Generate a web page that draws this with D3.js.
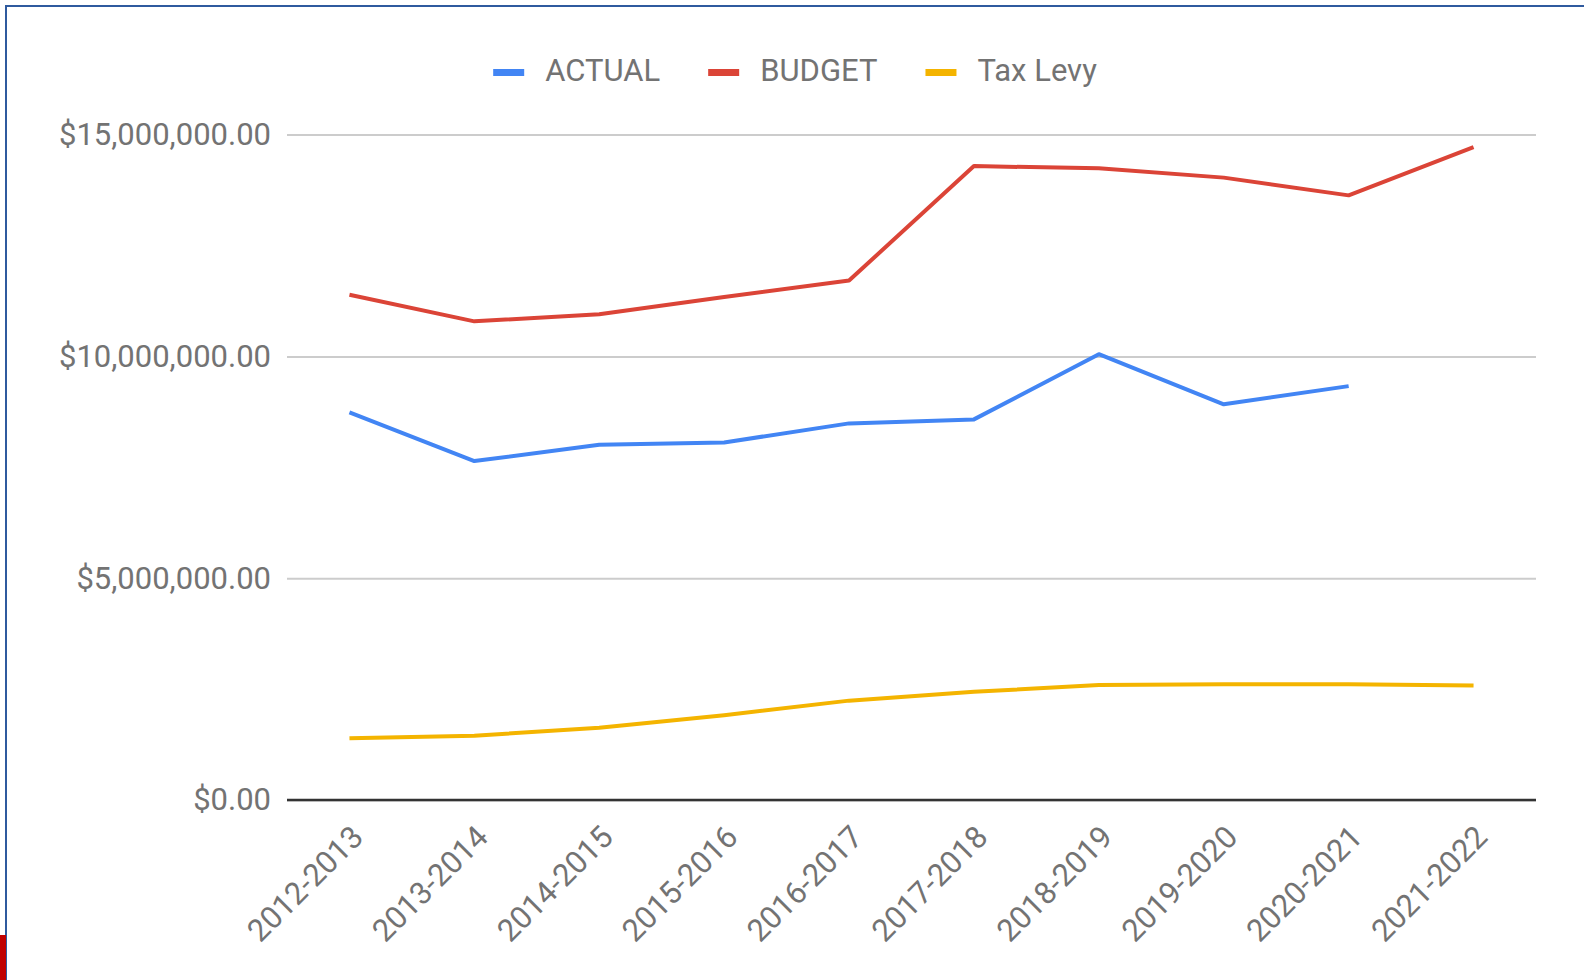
<!DOCTYPE html>
<html>
<head>
<meta charset="utf-8">
<script src="https://cdn.jsdelivr.net/npm/d3@7"></script>
<style>
  html, body { margin: 0; padding: 0; background: #fff; }
  svg { display: block; font-family: Roboto, "Noto Sans", sans-serif; }
</style>
</head>
<body>
<svg id="chart" width="1584" height="980"></svg>
<script>
const categories = ["2012-2013","2013-2014","2014-2015","2015-2016","2016-2017","2017-2018","2018-2019","2019-2020","2020-2021","2021-2022"];
const actual  = [8740000, 7640000, 8010000, 8060000, 8490000, 8580000, 10050000, 8920000, 9330000, null];
const budget  = [11390000, 10790000, 10950000, 11340000, 11710000, 14290000, 14240000, 14030000, 13630000, 14720000];
const taxLevy = [1390000, 1450000, 1630000, 1910000, 2240000, 2440000, 2590000, 2610000, 2610000, 2580000];
const yTicks = [0, 5000000, 10000000, 15000000];
const seriesNames = ["ACTUAL", "BUDGET", "Tax Levy"];
const seriesColors = ["#4285F4", "#DB4437", "#F4B400"];

const svg = d3.select("#chart");
const plotLeft = 287, plotRight = 1536, plotTop = 134.6, plotBottom = 800;

const x = d3.scalePoint().domain(categories).range([plotLeft, plotRight]).padding(0.5);
const y = d3.scaleLinear().domain([0, 15000000]).range([plotBottom, plotTop]);
const fmt = v => "$" + d3.format(",.2f")(v);

// Frame
svg.append("rect").attr("x", 6).attr("y", 6).attr("width", 1600).attr("height", 1000)
  .attr("fill", "none").attr("stroke", "#2f5a9e").attr("stroke-width", 2);
svg.append("rect").attr("x", 0).attr("y", 935).attr("width", 6).attr("height", 45).attr("fill", "#c00000");

// Grid + y labels
const yAxis = svg.append("g").attr("transform", `translate(${plotLeft},0)`)
  .call(d3.axisLeft(y).tickValues(yTicks).tickFormat(fmt).tickSize(-(plotRight - plotLeft)).tickPadding(16));
yAxis.select(".domain").remove();
yAxis.selectAll(".tick line").attr("stroke", "#cccccc").attr("stroke-width", 2);
yAxis.selectAll(".tick text").attr("fill", "#737373").attr("font-size", 31).attr("font-family", "Roboto");

// Baseline
svg.append("line").attr("x1", plotLeft).attr("x2", plotRight).attr("y1", y(0)).attr("y2", y(0))
  .attr("stroke", "#333333").attr("stroke-width", 2.5);

// X labels
const xAxis = svg.append("g").attr("transform", `translate(0,${plotBottom})`)
  .call(d3.axisBottom(x).tickSize(0).tickPadding(0));
xAxis.select(".domain").remove();
xAxis.selectAll(".tick text")
  .attr("fill", "#737373").attr("font-size", 31).attr("font-family", "Roboto")
  .attr("text-anchor", "end").attr("dy", 0).attr("y", 0)
  .attr("transform", "translate(15,39) rotate(-45)");

// Lines
const allSeries = [actual, budget, taxLevy];
allSeries.forEach((vals, i) => {
  const line = d3.line()
    .defined(d => d.v !== null)
    .x(d => x(d.c)).y(d => y(d.v));
  svg.append("path")
    .datum(categories.map((c, j) => ({c, v: vals[j]})))
    .attr("fill", "none").attr("stroke", seriesColors[i]).attr("stroke-width", 4)
    .attr("stroke-linejoin", "round").attr("d", line);
});

// Legend
const legend = svg.append("g");
let cx = 0;
seriesNames.forEach((name, i) => {
  const g = legend.append("g").attr("transform", `translate(${cx},0)`);
  g.append("rect").attr("x", 0).attr("y", 69).attr("width", 31).attr("height", 7).attr("fill", seriesColors[i]);
  const t = g.append("text").attr("x", 52).attr("y", 81).attr("fill", "#737373")
    .attr("font-size", 31).attr("font-family", "Roboto").text(name);
  const w = t.node().getComputedTextLength();
  cx += 52 + w + 48;
});
const totalW = cx - 48;
legend.attr("transform", `translate(${795 - totalW / 2},0)`);
</script>
</body>
</html>
